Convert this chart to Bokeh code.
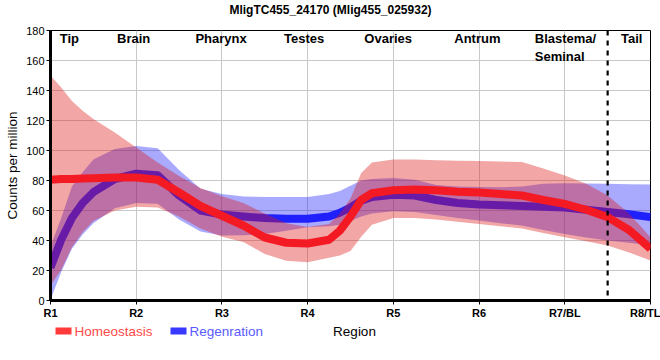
from bokeh.plotting import figure
from bokeh.layouts import column
from bokeh.models import ColumnDataSource, Range1d, FixedTicker, Span
from bokeh.core.properties import value
from bokeh.embed import file_html
from bokeh.resources import INLINE

FONT = "Liberation Sans"

# ---- data ----
chart_title = "MligTC455_24170 (Mlig455_025932)"
tick_labels = ["R1", "R2", "R3", "R4", "R5", "R6", "R7/BL", "R8/TL"]
y_ticks = [0, 20, 40, 60, 80, 100, 120, 140, 160, 180]
region_names = ["Tip", "Brain", "Pharynx", "Testes", "Ovaries", "Antrum", "Blastema/\nSeminal", "Tail"]
series_names = ["Homeostasis", "Regenration"]

sample_x = [0, 0.125, 0.25, 0.375, 0.5, 0.75, 1, 1.25, 1.5, 1.75, 2, 2.25, 2.5, 2.75, 3,
            3.25, 3.375, 3.5, 3.625, 3.75, 4, 4.25, 4.5, 4.75, 5, 5.25, 5.5, 5.75, 6,
            6.25, 6.5, 6.75, 7]

homeo_mean = [80.5, 81, 81, 81.3, 81.5, 82, 82, 80.5, 72, 63, 56.5, 50, 42, 38.5, 38,
              40.5, 46.5, 56, 67, 71.5, 73.5, 74, 73.5, 72.5, 72, 71, 70, 67, 64.4,
              60.5, 55.6, 47, 34.5]
homeo_upper = [150, 142, 133, 126.5, 121, 112, 102, 92, 83, 75, 69.5, 65, 58, 51.5, 49,
               51, 58, 68, 85, 92, 94, 94, 93.5, 93.2, 93, 92.7, 92.3, 88, 83.3,
               77.8, 70, 58, 42.2]
homeo_lower = [10, 20.5, 35.5, 45.5, 53, 60, 62.5, 62, 56, 48, 42.5, 39, 31, 26.5, 25.5,
               28.5, 30, 33, 42.5, 50.5, 55, 55, 54, 52.5, 51, 49.5, 48, 45, 42.2,
               39.5, 36.7, 32, 26.7]

regen_mean = [22, 40.5, 55, 65, 72.2, 81, 84.5, 83.5, 70, 60, 57.3, 56, 55, 54.5, 54.5,
              56, 58.5, 62, 66.5, 69, 70.5, 70, 67, 65, 64, 63.5, 63, 62.5, 62,
              60.5, 59, 57.5, 55.6]
regen_upper = [36, 55, 76, 85.5, 94, 101, 103, 101.5, 87, 74.5, 71, 69.3, 69, 69, 69,
               71, 73, 76.5, 80, 81, 81.7, 80.5, 77, 76, 75.6, 75.5, 76, 77.8, 78.2,
               78, 77.8, 77.5, 77.3]
regen_lower = [0.5, 19, 34.5, 44, 51.5, 61.5, 65, 64.5, 54, 46, 43.3, 43.5, 44.4, 46.5, 48.9,
               49.5, 50.5, 53, 56, 58, 59.5, 59, 57, 55, 53.3, 51.5, 50, 47, 44.4,
               42, 40, 38.5, 36.7]

boundary_x = 6.5

RED_BAND, BLUE_BAND = "#dc1414", "#1e1efa"
RED_LINE, BLUE_LINE = "#f41a24", "#2020ff"


def strip(height, y_top, y_bottom):
    """A bare figure whose ranges are page pixels, used for texts outside the frame."""
    f = figure(width=660, height=height, output_backend="svg", toolbar_location=None,
               title=None, x_range=Range1d(50, 650), y_range=Range1d(y_bottom, y_top),
               min_border_left=50, min_border_right=10, min_border_top=0,
               min_border_bottom=0, outline_line_color=None)
    f.axis.visible = False
    f.grid.visible = False
    return f


# ---- title strip ----
head = strip(22, 0, 22)
head.text(x=[330], y=[9], text=[chart_title], text_align="center",
          text_baseline="alphabetic", text_font=value(FONT), text_font_style="bold",
          text_font_size="12px", text_color="black")

# ---- main figure ----
p = figure(width=660, height=300, output_backend="svg", toolbar_location=None,
           title=None, x_range=Range1d(0, 7), y_range=Range1d(0, 180),
           min_border_left=50, min_border_right=10, min_border_top=8, min_border_bottom=22)

p.outline_line_color = "black"
p.outline_line_width = 1

src = ColumnDataSource(dict(x=sample_x, hm=homeo_mean, hu=homeo_upper, hl=homeo_lower,
                            rm=regen_mean, ru=regen_upper, rl=regen_lower))

p.varea(x="x", y1="rl", y2="ru", source=src, fill_color=BLUE_BAND, fill_alpha=0.38)
p.line(x="x", y="rm", source=src, line_color=BLUE_LINE, line_width=8, line_join="round")
p.varea(x="x", y1="hl", y2="hu", source=src, fill_color=RED_BAND, fill_alpha=0.38)
p.line(x="x", y="hm", source=src, line_color=RED_LINE, line_width=8, line_join="round")

p.add_layout(Span(location=boundary_x, dimension="height", line_color="black",
                  line_width=2.2, line_dash="5 5"))

# region names at top
label_x = [0.22, 0.97, 1.99, 2.96, 3.94, 4.98, 5.65, 6.78]
aligns = ["center", "center", "center", "center", "center", "center", "left", "center"]
tsrc = ColumnDataSource(dict(x=label_x, y=[179.5] * len(label_x), t=region_names, a=aligns))
p.text(x="x", y="y", text="t", source=tsrc, text_align="a", text_baseline="top",
       text_font=value(FONT), text_font_style="bold", text_font_size="13px",
       text_color="black", text_line_height=1.15)

# axes
ticks = list(range(len(tick_labels)))
p.xaxis.ticker = FixedTicker(ticks=ticks)
p.xaxis.major_label_overrides = {i: lab for i, lab in zip(ticks, tick_labels)}
p.yaxis.ticker = FixedTicker(ticks=y_ticks)
p.xgrid.ticker = FixedTicker(ticks=ticks)
p.ygrid.ticker = FixedTicker(ticks=y_ticks)
for g in (p.xgrid, p.ygrid):
    g.grid_line_color = "#c8c8c8"
    g.grid_line_width = 1

for ax in (p.xaxis, p.yaxis):
    ax.axis_line_width = 3
    ax.axis_line_color = "black"
    ax.major_tick_out = 4
    ax.major_tick_in = 0
    ax.major_tick_line_color = "black"
    ax.minor_tick_out = 0
    ax.minor_tick_in = 0
    ax.major_label_text_font = FONT
    ax.major_label_text_font_size = "11px"
    ax.major_label_text_color = "black"
    ax.axis_label_text_font = FONT
    ax.axis_label_text_font_size = "13.5px"
    ax.axis_label_text_font_style = "normal"
    ax.axis_label_text_color = "black"

p.xaxis.major_label_text_font_style = "bold"
p.xaxis.major_label_standoff = 2
p.yaxis.major_label_standoff = 2
p.yaxis.axis_label = "Counts per million"
p.yaxis.axis_label_standoff = 3

# ---- legend strip with the x-axis title ----
leg = strip(38, 322, 360)
swatch_src = ColumnDataSource(dict(x=[63, 178], y=[330.5, 330.5], c=["#ff3a3a", "#3838ff"]))
leg.rect(x="x", y="y", width=16, height=7, source=swatch_src, fill_color="c",
         line_color=None)
lab_src = ColumnDataSource(dict(x=[74, 189], y=[330.5, 330.5], t=series_names,
                                c=["#ff4a4a", "#5a5aff"]))
leg.text(x="x", y="y", text="t", source=lab_src, text_color="c", text_baseline="middle",
         text_align="left", text_font=value(FONT), text_font_size="13.5px")
leg.text(x=[354], y=[330.5], text=["Region"], text_color="black", text_baseline="middle",
         text_align="center", text_font=value(FONT), text_font_size="13.5px")

layout = column(head, p, leg, spacing=0)
open("out.html", "w").write(file_html(layout, INLINE))
